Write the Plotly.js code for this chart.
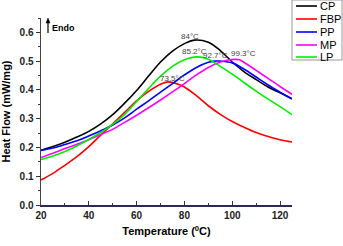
<!DOCTYPE html>
<html>
<head>
<meta charset="utf-8">
<script src="https://cdn.plot.ly/plotly-3.0.1.min.js"></script>
<style>html,body{margin:0;padding:0;background:#fff;}#chart{width:343px;height:246px;}</style>
</head>
<body>
<div id="chart"></div>
<script>
// ---- data ----
var seriesNames = ["CP", "FBP", "PP", "MP", "LP"];
var seriesColors = ["#000000", "#ff0000", "#0000ff", "#ff00ff", "#00ee00"];

var cpT = [20,25,30,35,40,45,50,55,60,65,70,75,80,84,90,95,100,105,110,115,120,125];
var cpV = [0.19,0.203,0.218,0.236,0.256,0.282,0.314,0.354,0.398,0.448,0.497,0.535,0.561,0.573,0.566,0.537,0.497,0.463,0.436,0.41,0.39,0.37];

var fbpT = [20,25,30,35,40,45,50,55,60,65,70,73.5,78,80,85,90,95,100,105,110,115,120,125];
var fbpV = [0.087,0.11,0.138,0.168,0.203,0.243,0.282,0.322,0.362,0.395,0.42,0.428,0.418,0.41,0.38,0.345,0.315,0.29,0.27,0.252,0.238,0.227,0.219];

var ppT = [20,25,30,35,40,45,50,55,60,65,70,75,80,85,90,92.7,95,100,105,110,115,120,125];
var ppV = [0.19,0.198,0.21,0.223,0.24,0.258,0.278,0.303,0.333,0.362,0.392,0.422,0.452,0.478,0.496,0.5,0.5,0.494,0.472,0.445,0.417,0.392,0.368];

var mpT = [20,25,30,35,40,45,50,55,60,65,70,75,80,85,90,95,99.3,103,106,110,115,120,125];
var mpV = [0.165,0.18,0.196,0.211,0.227,0.245,0.263,0.287,0.312,0.338,0.365,0.393,0.422,0.452,0.478,0.497,0.505,0.505,0.49,0.468,0.44,0.412,0.385];

var lpT = [20,25,30,35,40,45,50,55,60,65,70,75,80,85.2,90,95,100,105,110,115,120,125];
var lpV = [0.158,0.17,0.186,0.205,0.228,0.252,0.28,0.315,0.36,0.405,0.448,0.482,0.505,0.515,0.507,0.482,0.455,0.425,0.396,0.368,0.342,0.314];

var peakLabels = ["84°C", "73.5°C", "92.7°C", "99.3°C", "85.2°C"];
var peakLabelX = [82.3, 74.8, 93.2, 104.5, 84.4];
var peakLabelY = [0.585, 0.439, 0.519, 0.526, 0.533];

var xTickVals = [20, 40, 60, 80, 100, 120];
var yTickVals = [0.0, 0.1, 0.2, 0.3, 0.4, 0.5, 0.6];
var xTitle = "Temperature (<sup>0</sup>C)";
var yTitle = "Heat Flow (mW/mg)";

// ---- build ----
var xs = [cpT, fbpT, ppT, mpT, lpT];
var ys = [cpV, fbpV, ppV, mpV, lpV];
var traces = seriesNames.map(function (n, i) {
  return {x: xs[i], y: ys[i], name: n, type: "scatter", mode: "lines",
    line: {color: seriesColors[i], width: 1.6, shape: "spline", smoothing: 1}, showlegend: false};
});

var W = 251, H = 187; // plot size in px
function px(p) { return p / W; }
function py(p) { return p / H; }

var annotations = peakLabels.map(function (t, i) {
  return {x: peakLabelX[i], y: peakLabelY[i], xref: "x", yref: "y", text: t, showarrow: false,
    font: {family: "Arial, Liberation Sans", size: 8, color: "#444"}};
});
annotations.push({x: px(9), y: py(177), xref: "paper", yref: "paper", xanchor: "left", yanchor: "middle",
  text: "Endo", showarrow: false, font: {family: "Arial, Liberation Sans", size: 9, color: "#000", weight: "bold"}});

// Endo arrow (shaft + head)
var shapes = [
  {type: "line", xref: "paper", yref: "paper", x0: px(7), x1: px(7), y0: py(172), y1: py(183),
    line: {color: "#000", width: 1.2}},
  {type: "path", xref: "paper", yref: "paper",
    path: "M " + px(5) + "," + py(182) + " L " + px(9) + "," + py(182) + " L " + px(7) + "," + py(187) + " Z",
    fillcolor: "#000", line: {color: "#000", width: 0.5}}
];

// manual legend
shapes.push({type: "rect", xref: "paper", yref: "paper", x0: px(251), x1: px(301), y0: py(145), y1: py(205),
  line: {color: "#999", width: 1}, fillcolor: "rgba(255,255,255,0)"});
var legY = [6, 19, 32, 45, 57];
seriesNames.forEach(function (n, i) {
  var yy = py(205 - legY[i]);
  shapes.push({type: "line", xref: "paper", yref: "paper", x0: px(255), x1: px(276), y0: yy, y1: yy,
    line: {color: seriesColors[i], width: 1.6}});
  annotations.push({x: px(277), y: yy, xref: "paper", yref: "paper", xanchor: "left", yanchor: "middle",
    text: n, showarrow: false, font: {family: "Arial, Liberation Sans", size: 11, color: "#000"}});
});

var tickFont = {family: "Arial, Liberation Sans", size: 10, color: "#222", weight: "bold"};
var layout = {
  width: 343, height: 246,
  margin: {l: 41, r: 51, t: 18, b: 41, pad: 0},
  paper_bgcolor: "#fff", plot_bgcolor: "#fff",
  xaxis: {range: [20, 125], tickvals: xTickVals, ticks: "inside", ticklen: 4, tickwidth: 1, tickcolor: "#333",
    showline: true, linecolor: "#2a2a55", linewidth: 1.5, showgrid: false, zeroline: false,
    tickfont: tickFont, minor: {dtick: 10, tick0: 20, ticks: "inside", ticklen: 2, tickcolor: "#333"},
    title: {text: xTitle, font: {family: "Arial, Liberation Sans", size: 11, color: "#000", weight: "bold"}, standoff: 8}},
  yaxis: {range: [0, 0.65], tickvals: yTickVals, tickformat: ".1f", ticks: "outside", ticklen: 4, tickwidth: 1, tickcolor: "#333",
    showline: true, linecolor: "#444", linewidth: 1.5, showgrid: false, zeroline: false,
    tickfont: tickFont, minor: {dtick: 0.05, tick0: 0, ticks: "outside", ticklen: 2, tickcolor: "#333"},
    title: {text: yTitle, font: {family: "Arial, Liberation Sans", size: 11, color: "#000", weight: "bold"}, standoff: 6}},
  annotations: annotations,
  shapes: shapes,
  showlegend: false
};

Plotly.newPlot("chart", traces, layout, {displayModeBar: false, staticPlot: true});
</script>
</body>
</html>
